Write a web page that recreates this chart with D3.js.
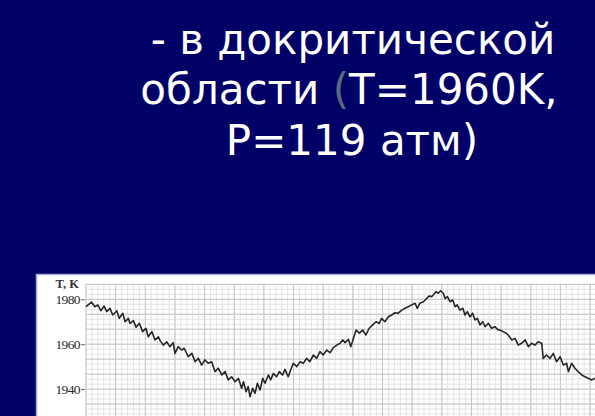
<!DOCTYPE html>
<html>
<head>
<meta charset="utf-8">
<script src="https://cdn.jsdelivr.net/npm/d3@7"></script>
<style>
  html, body { margin: 0; padding: 0; background: #000066; }
  svg { display: block; }
</style>
</head>
<body>
<svg id="slide" width="595" height="416"></svg>
<script>
// Temperature record near the precritical region: time (grid units) and T, K
const timeValues = [
  0.00, 0.19, 0.30, 0.40, 0.50, 0.61, 0.70, 0.81, 0.90, 1.04, 1.12, 1.24, 1.32, 1.43, 1.48, 1.60,
  1.69, 1.80, 1.91, 2.02, 2.10, 2.22, 2.33, 2.44, 2.50, 2.61, 2.72, 2.83, 2.94, 3.00, 3.11, 3.23,
  3.31, 3.45, 3.57, 3.68, 3.79, 3.90, 4.01, 4.12, 4.24, 4.35, 4.46, 4.58, 4.69, 4.80, 4.91, 5.03,
  5.14, 5.25, 5.31, 5.40, 5.47, 5.53, 5.62, 5.70, 5.78, 5.87, 5.96, 6.04, 6.15, 6.23, 6.32, 6.43,
  6.52, 6.63, 6.71, 6.82, 6.90, 6.99, 7.11, 7.22, 7.33, 7.44, 7.55, 7.67, 7.78, 7.89, 8.00, 8.12,
  8.23, 8.34, 8.46, 8.57, 8.66, 8.74, 8.85, 8.93, 9.02, 9.11, 9.22, 9.33, 9.44, 9.55, 9.67, 9.78,
  9.89, 9.97, 10.08, 10.20, 10.31, 10.42, 10.53, 10.65, 10.76, 10.87, 10.98, 11.10, 11.17, 11.26,
  11.38, 11.49, 11.58, 11.66, 11.71, 11.80, 11.88, 11.96, 12.05, 12.11, 12.19, 12.28, 12.37, 12.45,
  12.52, 12.61, 12.71, 12.78, 12.86, 12.95, 13.04, 13.12, 13.20, 13.29, 13.38, 13.46, 13.57, 13.68,
  13.79, 13.91, 13.96, 14.07, 14.17, 14.24, 14.36, 14.47, 14.58, 14.69, 14.81, 14.92, 15.03, 15.14,
  15.25, 15.37, 15.42, 15.53, 15.65, 15.76, 15.87, 15.99, 16.10, 16.21, 16.27, 16.38, 16.49, 16.60,
  16.72, 16.83, 16.94, 17.06, 17.17
];
const temperatureValues = [
  1976.7, 1978.7, 1976.7, 1977.5, 1974.9, 1977.0, 1974.5, 1976.0, 1973.0, 1974.9, 1971.5, 1973.8, 1970.0, 1971.5, 1969.3, 1970.5,
  1967.5, 1969.3, 1965.6, 1967.1, 1963.3, 1965.6, 1961.9, 1963.3, 1961.6, 1959.6, 1961.1, 1958.9, 1960.7, 1955.9, 1958.9, 1957.4,
  1958.2, 1954.4, 1955.9, 1952.2, 1953.7, 1950.7, 1953.0, 1951.5, 1952.2, 1947.8, 1949.3, 1946.3, 1947.8, 1944.1, 1945.5, 1943.3,
  1944.8, 1940.4, 1943.3, 1938.8, 1941.1, 1936.6, 1940.4, 1938.1, 1942.6, 1939.6, 1944.8, 1942.6, 1946.3, 1944.1, 1947.0, 1945.5,
  1947.8, 1946.3, 1948.8, 1945.5, 1948.5, 1951.5, 1950.0, 1952.2, 1951.5, 1953.7, 1952.2, 1955.2, 1953.7, 1956.7, 1955.2, 1957.4,
  1956.2, 1958.5, 1959.6, 1960.4, 1961.9, 1960.7, 1962.2, 1958.9, 1962.6, 1966.3, 1964.9, 1966.3, 1964.1, 1967.1, 1968.6, 1970.0,
  1969.3, 1971.5, 1970.0, 1972.2, 1973.0, 1974.0, 1973.8, 1975.2, 1976.0, 1976.7, 1977.5, 1978.2, 1976.0, 1978.2,
  1978.9, 1980.4, 1981.5, 1981.2, 1981.9, 1983.4, 1982.7, 1983.8, 1982.7, 1980.4, 1981.2, 1978.9, 1979.7, 1976.7,
  1977.5, 1975.2, 1976.0, 1973.0, 1974.5, 1972.2, 1973.8, 1970.8, 1971.5, 1968.6, 1970.0, 1967.8, 1969.3, 1967.1,
  1967.8, 1966.3, 1966.3, 1965.6, 1964.9, 1964.1, 1961.9, 1962.6, 1959.6, 1960.4, 1961.9, 1958.9, 1960.4, 1959.6,
  1961.1, 1960.4, 1953.7, 1955.2, 1953.7, 1955.9, 1952.2, 1954.4, 1950.7, 1951.5, 1947.8, 1951.5, 1949.3, 1947.8,
  1946.3, 1945.5, 1944.8, 1944.1, 1944.8
];
const yTickValues = [1940, 1960, 1980];
const yAxisTitle = "T, K";
const titleLines = ["- в докритической", "области (T=1960K,", "P=119 атм)"];

const svg = d3.select("#slide");

// Slide title
const title = svg.append("text")
  .attr("text-anchor", "middle")
  .attr("font-family", "DejaVu Sans, Verdana, sans-serif")
  .attr("font-size", 42)
  .attr("fill", "#ffffff");
const baselines = [54, 104, 155];
const centers = [353, 349, 352];
titleLines.forEach((line, i) => {
  const t = title.append("tspan").attr("x", centers[i]).attr("y", baselines[i]);
  if (line.includes("(")) {
    const k = line.indexOf("(");
    t.append("tspan").text(line.slice(0, k));
    t.append("tspan").attr("fill", "#5d6a7e").text("(");
    t.append("tspan").text(line.slice(k + 1));
  } else {
    t.text(line);
  }
});

// White chart panel
svg.append("rect")
  .attr("x", 36.5).attr("y", 274.5)
  .attr("width", 600).attr("height", 200)
  .attr("fill", "#ffffff")
  .attr("stroke", "#a9a9d6").attr("stroke-width", 1.5);

// Scales
const x = d3.scaleLinear().domain([0, 18]).range([86, 86 + 18 * 29.65]);
const y = d3.scaleLinear().domain([1940, 1980]).range([389.1, 299.3]);
const tMax = 1980 + 20 / 3;
const plotTop = y(tMax);
const plotBottom = 430;

const plot = svg.append("g");

// Minor grid
const minorX = d3.range(0, 18.01, 0.2);
const minorY = d3.range(tMax, 1900, -20 / 9);
plot.append("g").selectAll("line").data(minorX).join("line")
  .attr("x1", d => x(d)).attr("x2", d => x(d))
  .attr("y1", plotTop).attr("y2", plotBottom)
  .attr("stroke", "#e3e3e3").attr("stroke-width", 1);
plot.append("g").selectAll("line").data(minorY).join("line")
  .attr("x1", x(0)).attr("x2", 620)
  .attr("y1", d => y(d)).attr("y2", d => y(d))
  .attr("stroke", "#e3e3e3").attr("stroke-width", 1);

// Major grid
const majorX = d3.range(0, 19, 1);
const majorY = d3.range(tMax, 1900, -20 / 3);
plot.append("g").selectAll("line").data(majorX).join("line")
  .attr("x1", d => x(d)).attr("x2", d => x(d))
  .attr("y1", plotTop).attr("y2", plotBottom)
  .attr("stroke", "#c6c6c6").attr("stroke-width", 1);
plot.append("g").selectAll("line").data(majorY).join("line")
  .attr("x1", x(0)).attr("x2", 620)
  .attr("y1", d => y(d)).attr("y2", d => y(d))
  .attr("stroke", "#c6c6c6").attr("stroke-width", 1);

// Y axis with tick labels
const yAxis = d3.axisLeft(y).tickValues(yTickValues).tickSize(4).tickPadding(1).tickFormat(d3.format("d"));
const yg = svg.append("g").attr("transform", `translate(${x(0) - 1},0)`).call(yAxis);
yg.select(".domain").remove();
yg.selectAll(".tick line").attr("stroke", "#666");
yg.selectAll(".tick text")
  .attr("font-family", "Liberation Serif, Times New Roman, serif")
  .attr("font-size", 13.5)
  .attr("letter-spacing", -0.6)
  .attr("fill", "#2b2b2b");

svg.append("text")
  .attr("x", 79).attr("y", 288)
  .attr("text-anchor", "end")
  .attr("font-family", "Liberation Serif, Times New Roman, serif")
  .attr("font-weight", "bold")
  .attr("font-size", 12.5)
  .attr("fill", "#333")
  .text(yAxisTitle);

// Temperature trace
const series = timeValues.map((t, i) => [t, temperatureValues[i]]);
const line = d3.line().x(d => x(d[0])).y(d => y(d[1]));
svg.append("path")
  .datum(series)
  .attr("d", line)
  .attr("fill", "none")
  .attr("stroke", "#262626")
  .attr("stroke-width", 1.6)
  .attr("stroke-linejoin", "round");
</script>
</body>
</html>
